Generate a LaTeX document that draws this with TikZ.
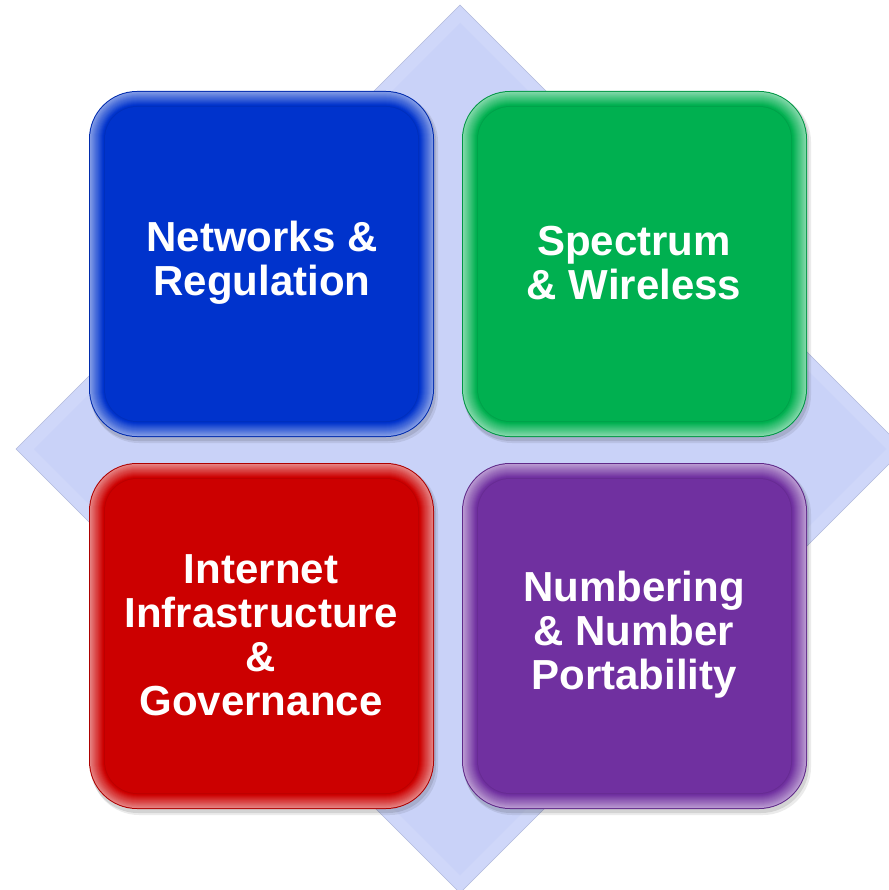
\documentclass[tikz,border=0pt]{standalone}
\usepackage{fontspec}
\setmainfont{Liberation Sans}
\definecolor{netblue}{RGB}{0,51,204}
\definecolor{specgreen}{RGB}{0,176,80}
\definecolor{inetred}{RGB}{204,0,0}
\definecolor{numpurple}{RGB}{112,48,160}
\definecolor{diamondouter}{RGB}{207,215,249}
\definecolor{diamondinner}{RGB}{201,210,248}
\definecolor{diamondedge}{RGB}{178,186,220}

% Bevelled tile: #1,#2 top-left corner, #3,#4 bottom-right corner, #5 colour
\newcommand\tilebox[5]{%
  \fill[black,opacity=0.08,rounded corners=48pt] (#1+2,#2+3) rectangle (#3+4,#4+6);
  \fill[black,opacity=0.10,rounded corners=48pt] (#1+1,#2+2) rectangle (#3+2,#4+4);
  \fill[#5!85!black,rounded corners=48pt] (#1,#2) rectangle (#3,#4);
  \foreach \k in {1,...,14}{%
    \pgfmathtruncatemacro\wh{50-(\k-1)*50/13}%
    \pgfmathsetmacro\rr{48-\k}%
    \fill[#5!\the\numexpr100-\wh\relax!white,rounded corners=\rr pt]
      (#1+\k,#2+\k) rectangle (#3-\k,#4-\k);
  }%
  \fill[#5!92!black,rounded corners=33pt] (#1+15,#2+15) rectangle (#3-15,#4-15);
  \fill[#5,rounded corners=32pt] (#1+16,#2+16) rectangle (#3-16,#4-16);
}

\begin{document}
\begin{tikzpicture}[x=1pt,y=-1pt,
  tiletext/.style={text=white,font=\bfseries\fontsize{42}{44}\selectfont,
    align=center,inner sep=0pt}]
\useasboundingbox (0,0) rectangle (888,890);

% background diamond with a soft bevel
\fill[diamondouter] (460,5) -- (904,449) -- (460,893) -- (16,449) -- cycle;
\fill[diamondinner] (460,23) -- (886,449) -- (460,875) -- (34,449) -- cycle;
\draw[diamondedge,line width=0.6pt] (460,5) -- (904,449) -- (460,893) -- (16,449) -- cycle;

% four tiles
\tilebox{89}{91}{434}{437}{netblue}
\tilebox{462}{91}{807}{437}{specgreen}
\tilebox{89}{463}{434}{809}{inetred}
\tilebox{462}{463}{807}{809}{numpurple}

\node[tiletext] (net) at (262,263) {Networks \&\\Regulation};
\node[tiletext] (spec) at (634,263) {Spectrum\\\& Wireless};
\node[tiletext] (inet) at (261,635) {Internet\\Infrastructure\\\&\\Governance};
\node[tiletext] (num) at (634,635) {Numbering\\\& Number\\Portability};
\end{tikzpicture}
\end{document}
